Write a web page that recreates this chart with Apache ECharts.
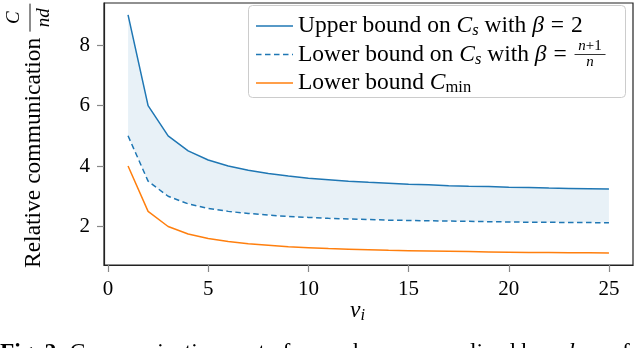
<!DOCTYPE html>
<html><head><meta charset="utf-8">
<script src="https://cdn.jsdelivr.net/npm/echarts@6/dist/echarts.min.js"></script>
<style>html,body{margin:0;padding:0;background:#fff}#c{width:640px;height:348px}</style>
</head><body><div id="c"></div>
<script>
// ---- data ----
const nu = [1,2,3,4,5,6,7,8,9,10,11,12,13,14,15,16,17,18,19,20,21,22,23,24,25];
const upperBound = [9.00,6.00,5.00,4.50,4.20,4.00,3.86,3.75,3.67,3.60,3.55,3.50,3.46,3.43,3.40,3.38,3.35,3.33,3.32,3.30,3.29,3.27,3.26,3.25,3.24];
const lowerBoundCs = [5.00,3.50,3.00,2.75,2.60,2.50,2.43,2.38,2.33,2.30,2.27,2.25,2.23,2.21,2.20,2.19,2.18,2.17,2.16,2.15,2.14,2.14,2.13,2.13,2.12];
const lowerBoundCmin = [4.00,2.50,2.00,1.75,1.60,1.50,1.43,1.38,1.33,1.30,1.27,1.25,1.23,1.21,1.20,1.19,1.18,1.17,1.16,1.15,1.14,1.14,1.13,1.13,1.12];
const xTicks = [0,5,10,15,20,25];
const yTicks = [2,4,6,8];

// ---- styling ----
const FONT = 'Liberation Serif';
const FS = 21;      // tick labels
const TS = 23.5;    // other text
const SUB = 16.5;   // subscripts
const BLUE = '#1f77b4', ORANGE = '#ff7f0e';

const chart = echarts.init(document.getElementById('c'), null, {renderer: 'canvas'});
const pairs = arr => nu.map((x, i) => [x, arr[i]]);

const mctx = document.createElement('canvas').getContext('2d');
function tw(text, size, italic, bold) {
  mctx.font = (italic ? 'italic ' : '') + (bold ? 'bold ' : '') + size + 'px "' + FONT + '"';
  return mctx.measureText(text).width;
}
function runs(x0, y0, parts, z) {
  let x = x0; const out = [];
  parts.forEach(p => {
    const size = p.size || TS;
    x += (p.pre || 0);
    out.push({type: 'text', x: x, y: y0 + (p.dy || 0), z: z || 100,
      style: {text: p.t, fontFamily: FONT, fontSize: size,
        fontStyle: p.it ? 'italic' : 'normal', fontWeight: p.b ? 'bold' : 'normal',
        fill: '#000', align: 'left', verticalAlign: 'middle'}});
    x += tw(p.t, size, p.it, p.b);
  });
  return {els: out, end: x};
}

const graphics = [];
// legend box
graphics.push({type: 'rect', z: 99, shape: {x: 248.5, y: 5.5, width: 377, height: 92, r: 4},
  style: {fill: 'rgba(255,255,255,0.85)', stroke: '#cccccc', lineWidth: 1}});
const rowsY = [26, 54.5, 83];
graphics.push({type: 'line', z: 100, shape: {x1: 256, y1: rowsY[0], x2: 293, y2: rowsY[0]}, style: {stroke: BLUE, lineWidth: 1.5}});
graphics.push({type: 'line', z: 100, shape: {x1: 256, y1: rowsY[1], x2: 293, y2: rowsY[1]}, style: {stroke: BLUE, lineWidth: 1.5, lineDash: [5.5, 3.5]}});
graphics.push({type: 'line', z: 100, shape: {x1: 256, y1: rowsY[2], x2: 293, y2: rowsY[2]}, style: {stroke: ORANGE, lineWidth: 1.5}});
const LX = 298;
let r1 = runs(LX, rowsY[0], [{t: 'Upper bound on '}, {t: 'C', it: 1}, {t: 's', it: 1, size: SUB, dy: 5}, {t: ' with '}, {t: 'β', it: 1}, {t: ' = ', pre: 1}, {t: '2', pre: 1}]);
graphics.push(...r1.els);
let r2 = runs(LX, rowsY[1], [{t: 'Lower bound on '}, {t: 'C', it: 1}, {t: 's', it: 1, size: SUB, dy: 5}, {t: ' with '}, {t: 'β', it: 1}, {t: ' = ', pre: 1}]);
graphics.push(...r2.els);
{
  const fx = r2.end + 2, fwid = 31, cx = fx + fwid / 2;
  graphics.push({type: 'text', z: 100, x: cx, y: rowsY[1] - 8, style: {text: '{i|n}+1', rich: {i: {fontStyle: 'italic', fontFamily: FONT, fontSize: 15}}, fontFamily: FONT, fontSize: 15, fill: '#000', align: 'center', verticalAlign: 'middle'}});
  graphics.push({type: 'line', z: 100, shape: {x1: fx, y1: rowsY[1], x2: fx + fwid, y2: rowsY[1]}, style: {stroke: '#000', lineWidth: 0.8}});
  graphics.push({type: 'text', z: 100, x: cx, y: rowsY[1] + 8, style: {text: 'n', fontFamily: FONT, fontStyle: 'italic', fontSize: 15, fill: '#000', align: 'center', verticalAlign: 'middle'}});
}
let r3 = runs(LX, rowsY[2], [{t: 'Lower bound '}, {t: 'C', it: 1}, {t: 'min', size: SUB, dy: 5}]);
graphics.push(...r3.els);

// caption (cut off at the bottom)
let cap = runs(0, 353, [{t: 'Fig. 2:', b: 1}, {t: ' Communication cost of our scheme normalized by '}, {t: 'nd', it: 1}, {t: ' as a function of'}], 10);
graphics.push(...cap.els);

// x axis name
let xn = runs(350, 311, [{t: 'ν', it: 1}, {t: 'i', it: 1, size: SUB, dy: 5}], 10);
graphics.push(...xn.els);

// y axis name (rotated)
{
  const children = [];
  const lab = runs(0, 0, [{t: 'Relative communication'}], 10);
  children.push(...lab.els);
  const fc = lab.end + 20;
  children.push({type: 'text', x: fc, y: -20, style: {text: 'C', fontFamily: FONT, fontStyle: 'italic', fontSize: 19, fill: '#000', align: 'center', verticalAlign: 'middle'}});
  children.push({type: 'line', shape: {x1: fc - 14, y1: -4, x2: fc + 14, y2: -4}, style: {stroke: '#000', lineWidth: 0.9}});
  children.push({type: 'text', x: fc, y: 10, style: {text: 'nd', fontFamily: FONT, fontStyle: 'italic', fontSize: 19, fill: '#000', align: 'center', verticalAlign: 'middle'}});
  graphics.push({type: 'group', x: 34, y: 268, rotation: Math.PI / 2, children: children});
}

const axisCommon = {
  type: 'value',
  splitLine: {show: false},
  axisLine: {show: true, onZero: false, lineStyle: {color: '#222', width: 1.2}},
  axisTick: {show: true, length: 7, lineStyle: {color: '#888', width: 1.2}},
  axisLabel: {fontFamily: FONT, fontSize: FS, color: '#000', margin: 14}
};

chart.setOption({
  animation: false,
  grid: {left: 104, right: 7, top: 3, bottom: 83, show: true, borderColor: '#222', borderWidth: 1.2, backgroundColor: 'transparent'},
  xAxis: echarts.util.merge({min: -0.2, max: 26.2,
    axisTick: {customValues: xTicks}, axisLabel: {customValues: xTicks}}, axisCommon),
  yAxis: echarts.util.merge({min: 0.726, max: 9.394,
    axisTick: {customValues: yTicks}, axisLabel: {customValues: yTicks}}, axisCommon),
  series: [
    {name: 'band', type: 'custom', silent: true, z: 1, clip: true,
      data: [[nu[0], upperBound[0]]],
      renderItem: function (params, api) {
        const pts = [];
        for (let i = 0; i < nu.length; i++) pts.push(api.coord([nu[i], upperBound[i]]));
        for (let i = nu.length - 1; i >= 0; i--) pts.push(api.coord([nu[i], lowerBoundCs[i]]));
        return {type: 'polygon', shape: {points: pts}, style: {fill: 'rgba(31,119,180,0.1)', stroke: 'none'}};
      }},
    {name: 'Upper bound on C_s with β = 2', type: 'line', data: pairs(upperBound), symbol: 'none',
      lineStyle: {color: BLUE, width: 1.5}, z: 3},
    {name: 'Lower bound on C_s with β = (n+1)/n', type: 'line', data: pairs(lowerBoundCs), symbol: 'none',
      lineStyle: {color: BLUE, width: 1.5, type: [5.5, 3.5]}, z: 3},
    {name: 'Lower bound C_min', type: 'line', data: pairs(lowerBoundCmin), symbol: 'none',
      lineStyle: {color: ORANGE, width: 1.5}, z: 3}
  ],
  graphic: graphics
});
</script>
</body></html>
